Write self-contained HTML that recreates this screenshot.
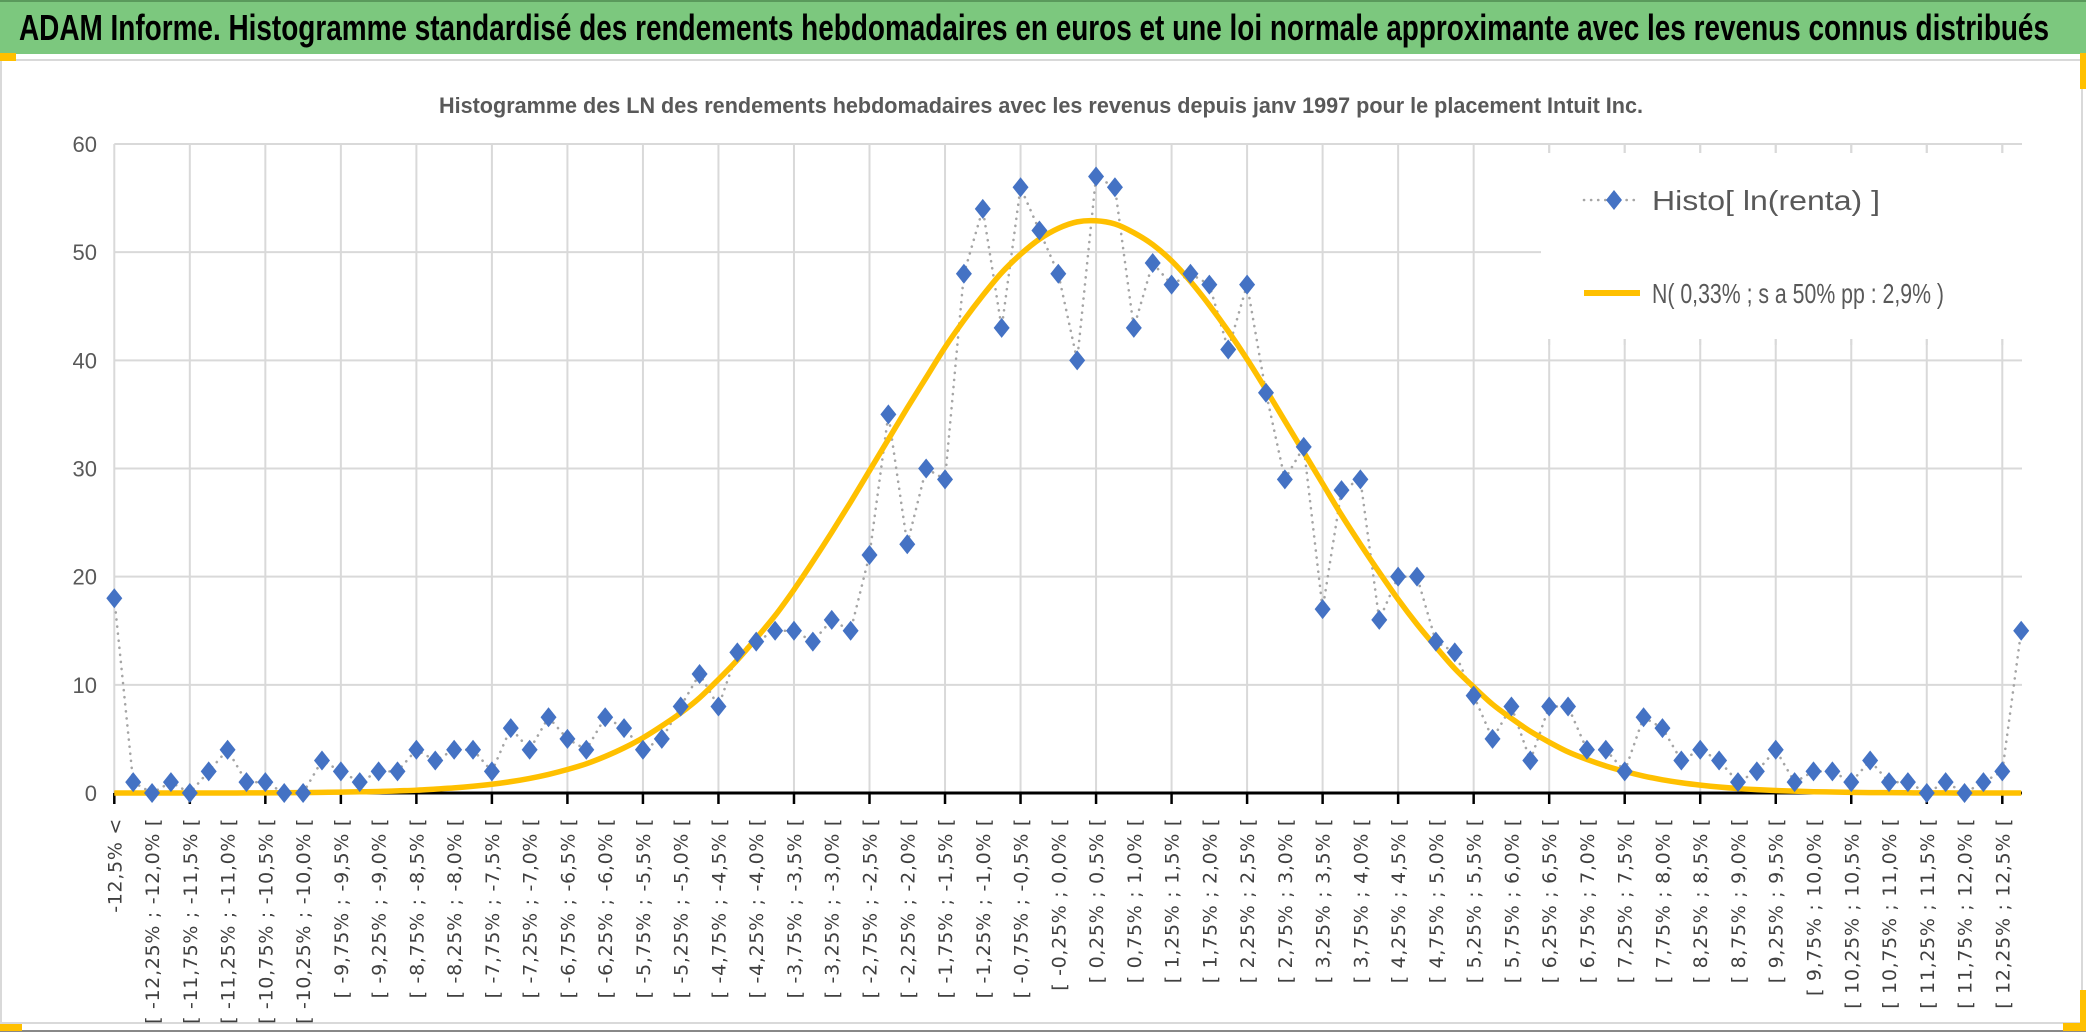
<!DOCTYPE html>
<html><head><meta charset="utf-8">
<style>
html,body{margin:0;padding:0;background:#fff;}
body{width:2086px;height:1033px;overflow:hidden;position:relative;font-family:"Liberation Sans",sans-serif;}
svg{position:absolute;left:0;top:0;}
</style></head>
<body>
<svg id="chart" width="2086" height="1033" viewBox="0 0 2086 1033">
  <rect x="0" y="0" width="2086" height="1033" fill="#fff"/>
  <rect x="0" y="0" width="2086" height="54" fill="#7cc87e"/>
  <line x1="0" y1="1" x2="2086" y2="1" stroke="#5a9a5c" stroke-width="2"/>
  <text x="1034" y="40" text-anchor="middle" font-size="36" font-weight="bold" fill="#000" textLength="2030" lengthAdjust="spacingAndGlyphs">ADAM Informe. Histogramme standardisé des rendements hebdomadaires en euros et une loi normale approximante avec les revenus connus distribués</text>
  <rect x="1" y="60" width="2081" height="963" fill="#fff" stroke="#d9d9d9" stroke-width="2"/>
  <line x1="0" y1="1031" x2="2086" y2="1031" stroke="#888" stroke-width="2"/>
  <rect x="0" y="53" width="16" height="8" fill="#ffc000"/>
  <rect x="0" y="1024" width="22" height="7" fill="#ffc000"/>
  <rect x="2080" y="53" width="6" height="36" fill="#ffc000"/>
  <rect x="2063" y="1023" width="23" height="8" fill="#ffc000"/>
  <rect x="2080" y="990" width="6" height="40" fill="#ffc000"/>
  <text x="1041" y="113" text-anchor="middle" font-size="22" font-weight="bold" fill="#595959" textLength="1204" lengthAdjust="spacingAndGlyphs">Histogramme des LN des rendements hebdomadaires avec les revenus depuis janv 1997 pour le placement Intuit Inc.</text>
  <g id="grid"></g>
  <g id="yaxis"></g>
  <g id="xaxis"></g>
  <g id="series"></g>
  <g id="legend"></g>
</svg>
<script>
const histValues=[18,1,0,1,0,2,4,1,1,0,0,3,2,1,2,2,4,3,4,4,2,6,4,7,5,4,7,6,4,5,8,11,8,13,14,15,15,14,16,15,22,35,23,30,29,48,54,43,56,52,48,40,57,56,43,49,47,48,47,41,47,37,29,32,17,28,29,16,20,20,14,13,9,5,8,3,8,8,4,4,2,7,6,3,4,3,1,2,4,1,2,2,1,3,1,1,0,1,0,1,2,15];
const normalValues=[0,0,0,0,0,0,0,0.01,0.01,0.02,0.04,0.06,0.08,0.11,0.14,0.2,0.26,0.36,0.47,0.62,0.81,1.05,1.35,1.72,2.17,2.7,3.38,4.17,5.1,6.2,7.4,8.8,10.5,12.3,14.3,16.4,18.8,21.4,24.1,26.9,29.8,32.7,35.6,38.4,41.2,43.7,46,48.1,49.8,51.2,52.2,52.8,52.9,52.6,51.8,50.7,49.2,47.3,45.1,42.7,40.1,37.3,34.4,31.5,28.6,25.7,23,20.4,17.9,15.6,13.5,11.5,9.8,8.2,6.9,5.7,4.7,3.8,3.1,2.5,2,1.57,1.22,0.95,0.73,0.55,0.41,0.31,0.23,0.17,0.12,0.09,0.06,0.04,0.03,0.02,0.01,0.01,0,0,0,0];
const yTicks=[0,10,20,30,40,50,60];
const seriesNames=["Histo[ ln(renta) ]","N( 0,33% ; s a 50% pp : 2,9% )"];
const binStart=-12.5, binStep=0.25;

const NS="http://www.w3.org/2000/svg";
const X0=114.3, STEP=18.88, Y0=793, YTOP=144, YMAX=60, XRIGHT=2022;
const xs=k=>X0+k*STEP;
const ys=v=>Y0-(v/YMAX)*(Y0-YTOP);
function mk(tag,attrs,parent){const e=document.createElementNS(NS,tag);for(const k in attrs)e.setAttribute(k,attrs[k]);parent.appendChild(e);return e;}
function fmt(v){return (Number.isInteger(v)?v.toFixed(1):String(v)).replace('.',',')+'%';}
function fmt2(v){let s=v.toFixed(2);if(s.endsWith('0'))s=v.toFixed(1);return s.replace('.',',')+'%';}

const grid=document.getElementById('grid'), yaxis=document.getElementById('yaxis'), xaxis=document.getElementById('xaxis');
const n=histValues.length;
yTicks.forEach(t=>{
  if(t>0){const l=mk('line',{x1:X0,x2:XRIGHT,y1:ys(t),y2:ys(t),stroke:'#d9d9d9','stroke-width':2},grid);
  
  }
  const tx=mk('text',{x:97,y:ys(t)+8,'text-anchor':'end','font-size':22,fill:'#595959'},yaxis);
  tx.textContent=t;
  
  
});
for(let k=0;k<n;k+=4){
  const l=mk('line',{x1:xs(k),x2:xs(k),y1:YTOP,y2:Y0,stroke:'#d9d9d9','stroke-width':2},grid);
  
  
  const t=mk('line',{x1:xs(k),x2:xs(k),y1:Y0,y2:Y0+11,stroke:'#000','stroke-width':2.5},xaxis);
  
  
}
const ax=mk('line',{x1:X0,x2:XRIGHT,y1:Y0,y2:Y0,stroke:'#000','stroke-width':3},xaxis);


for(let k=0;k<=100;k+=2){
  let label;
  if(k===0) label=fmt(binStart)+' <';
  else {const a=binStart+(k-1)*binStep, b=a+binStep; label='[ '+fmt2(a)+' ; '+fmt2(b)+' [';}
  const x=xs(k)+7, y=818;
  const t=mk('text',{x:x,y:y,transform:`rotate(-90 ${x} ${y})`,'text-anchor':'end','font-size':19,'font-family':'"DejaVu Sans",sans-serif','letter-spacing':'0.7',fill:'#404040'},xaxis);
  t.textContent=label;
  
  
}
const sg=document.getElementById('series');
const hp=histValues.map((v,k)=>xs(k)+','+ys(v)).join(' ');
const hl=mk('polyline',{points:hp,fill:'none',stroke:'#a5a5a5','stroke-width':2.6,'stroke-dasharray':'0.1 7','stroke-linecap':'round'},sg);


const pts=normalValues.map((v,k)=>[xs(k),ys(v)]);
let d='M'+pts[0][0]+','+pts[0][1];
for(let i=0;i<pts.length-1;i++){
  const p0=pts[Math.max(0,i-1)],p1=pts[i],p2=pts[i+1],p3=pts[Math.min(pts.length-1,i+2)];
  const c1=[p1[0]+(p2[0]-p0[0])/6,p1[1]+(p2[1]-p0[1])/6],c2=[p2[0]-(p3[0]-p1[0])/6,p2[1]-(p3[1]-p1[1])/6];
  d+=` C${c1[0]},${c1[1]} ${c2[0]},${c2[1]} ${p2[0]},${p2[1]}`;
}
const nc=mk('path',{d:d,fill:'none',stroke:'#ffc000','stroke-width':5.5,'stroke-linejoin':'round'},sg);


histValues.forEach((v,k)=>{
  const x=xs(k),y=ys(v);
  const m=mk('polygon',{points:`${x},${y-10} ${x+8},${y} ${x},${y+10} ${x-8},${y}`,fill:'#4472c4'},sg);
  
  
});
const lg=document.getElementById('legend');
const lb=mk('rect',{x:1541,y:153,width:481,height:186,fill:'#fff'},lg);


for(let k=76;k<=100;k+=4){ if(xs(k)>1541){
  mk('line',{x1:xs(k),x2:xs(k),y1:144,y2:153,stroke:'#d9d9d9','stroke-width':2},lg);
  mk('line',{x1:xs(k),x2:xs(k),y1:339,y2:345,stroke:'#d9d9d9','stroke-width':2},lg);
}}
const l1=mk('line',{x1:1584,x2:1640,y1:200,y2:200,stroke:'#a5a5a5','stroke-width':2.6,'stroke-dasharray':'0.1 7','stroke-linecap':'round'},lg);


const lm=mk('polygon',{points:'1614,190 1622,200 1614,210 1606,200',fill:'#4472c4'},lg);


const t1=mk('text',{x:1652,y:210,'font-size':28,fill:'#595959',textLength:228,lengthAdjust:'spacingAndGlyphs'},lg);
t1.textContent=seriesNames[0];


const l2=mk('line',{x1:1584,x2:1640,y1:293,y2:293,stroke:'#ffc000','stroke-width':6},lg);


const t2=mk('text',{x:1652,y:303,'font-size':28,fill:'#595959',textLength:292,lengthAdjust:'spacingAndGlyphs'},lg);
t2.textContent=seriesNames[1];


</script>
</body></html>
